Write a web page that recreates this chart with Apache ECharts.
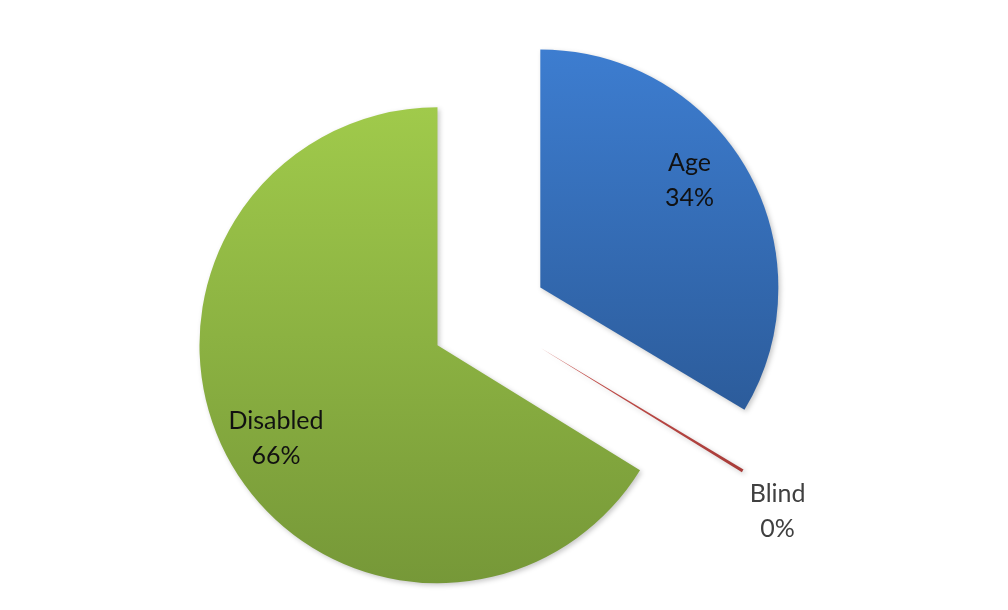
<!DOCTYPE html>
<html>
<head>
<meta charset="utf-8">
<script src="https://cdn.jsdelivr.net/npm/echarts@6/dist/echarts.min.js"></script>
<style>
  html, body { margin: 0; padding: 0; background: #ffffff; }
  #chart { width: 1008px; height: 610px; }
</style>
</head>
<body>
<div id="chart"></div>
<script>
// Share of recipients by category
const categories = ['Age', 'Blind', 'Disabled'];
const values = [33.6, 0.2, 66.2];

// Per-slice fill (top → bottom gradient) and label nudges
const fills = [
  ['#3d7dd0', '#2c5c9b'],
  ['#c8504c', '#a83c39'],
  ['#a0ca4b', '#769838']
];
const labelShift = [[43, -47], [134, 101], [-55, 34]];
const labelColors = ['#111111', '#404040', '#111111'];

const total = values.reduce((a, b) => a + b, 0);

const chart = echarts.init(document.getElementById('chart'), null, { renderer: 'canvas' });

const gradient = (i) => ({
  type: 'linear', x: 0, y: 0, x2: 0, y2: 1,
  colorStops: [
    { offset: 0, color: fills[i][0] },
    { offset: 1, color: fills[i][1] }
  ]
});

chart.setOption({
  animation: false,
  backgroundColor: '#ffffff',
  series: [{
    type: 'pie',
    center: [489, 316.5],
    radius: [0, 238],
    startAngle: 90,
    clockwise: true,
    selectedMode: 'multiple',
    selectedOffset: 59,
    avoidLabelOverlap: false,
    labelLine: { show: false },
    emphasis: { disabled: true },
    labelLayout: (params) => ({
      dx: labelShift[params.dataIndex][0],
      dy: labelShift[params.dataIndex][1]
    }),
    data: categories.map((name, i) => ({
      name: name,
      value: values[i],
      selected: true,
      itemStyle: {
        color: gradient(i),
        shadowBlur: 5,
        shadowOffsetX: 2,
        shadowOffsetY: 2,
        shadowColor: 'rgba(0,0,0,0.22)'
      },
      select: { itemStyle: { color: gradient(i) } },
      label: {
        show: true,
        position: 'inside',
        color: labelColors[i],
        fontFamily: 'Lato',
        fontSize: 25,
        lineHeight: 35,
        align: 'center',
        formatter: () => name + '\n' + Math.round(values[i] / total * 100) + '%'
      }
    }))
  }]
});
</script>
</body>
</html>
